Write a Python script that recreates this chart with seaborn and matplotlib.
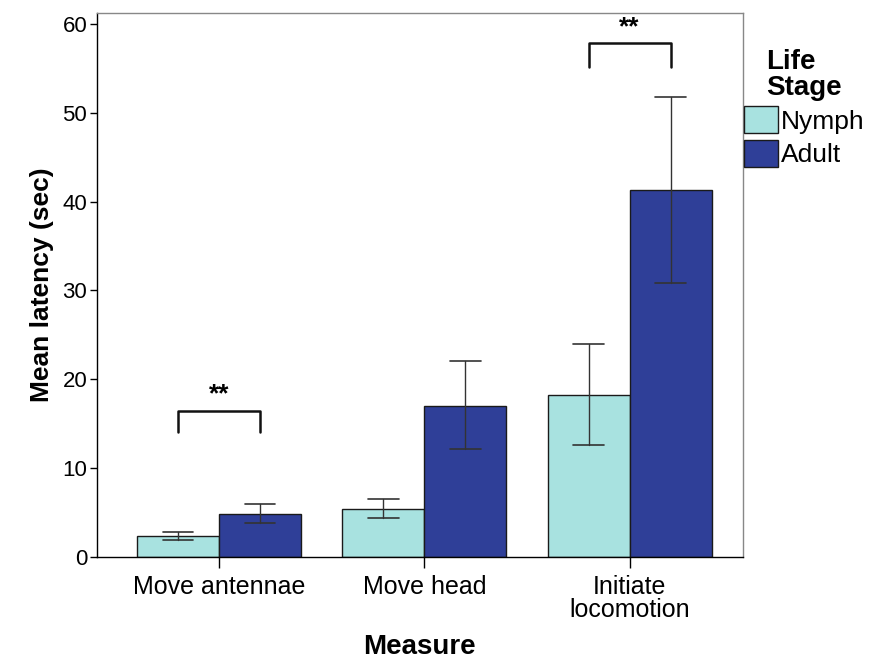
import numpy as np
import pandas as pd
import matplotlib
matplotlib.use("Agg")
import matplotlib.pyplot as plt
import seaborn as sns

# --- data ---
measures = ["Move antennae", "Move head", "Initiate\nlocomotion"]
stages = ["Nymph", "Adult"]
nymph_mean = [2.35, 5.4, 18.2]
adult_mean = [4.85, 17.0, 41.3]
nymph_lo = [1.85, 4.3, 12.6]
nymph_hi = [2.8, 6.5, 23.9]
adult_lo = [3.8, 12.1, 30.8]
adult_hi = [5.95, 22.0, 51.8]
colors = ["#a8e2e0", "#2f3f98"]

df = pd.DataFrame({
    "Measure": measures * 2,
    "Life Stage": ["Nymph"] * 3 + ["Adult"] * 3,
    "Latency": nymph_mean + adult_mean,
})

sns.set_style("white")
plt.rcParams["font.family"] = ["Liberation Sans", "DejaVu Sans"]
plt.rcParams["text.color"] = "black"
plt.rcParams["axes.labelcolor"] = "black"
plt.rcParams["xtick.color"] = "black"
plt.rcParams["ytick.color"] = "black"

fig = plt.figure(figsize=(8.82, 6.65), dpi=100)
ax = fig.add_axes([0.110, 0.163, 0.732, 0.817])

sns.barplot(data=df, x="Measure", y="Latency", hue="Life Stage",
            hue_order=stages, palette=colors, saturation=1, errorbar=None,
            edgecolor="#1a1a1a", linewidth=1.0, width=0.8, ax=ax)

# error bars from the listed bounds
lows = [nymph_lo, adult_lo]
highs = [nymph_hi, adult_hi]
for k, cont in enumerate(ax.containers):
    for i, bar in enumerate(cont):
        xc = bar.get_x() + bar.get_width() / 2
        ax.plot([xc, xc], [lows[k][i], highs[k][i]], color="#333333", lw=1.0)
        for yv in (lows[k][i], highs[k][i]):
            ax.plot([xc - 0.075, xc + 0.075], [yv, yv], color="#333333", lw=1.2)

# significance brackets
def bracket(x0, x1, ylow, ytop, ystar):
    ax.plot([x0, x0, x1, x1], [ylow, ytop, ytop, ylow], color="#111111", lw=1.8)
    ax.text((x0 + x1) / 2, ystar, "**", ha="center", va="center",
            fontsize=19, fontweight="bold")

bracket(-0.2, 0.2, 14.0, 16.4, 18.3)
bracket(1.8, 2.2, 55.2, 57.9, 59.6)

ax.set_xlim(-0.594, 2.55)
ax.set_ylim(0, 61.2)
ax.set_yticks([0, 10, 20, 30, 40, 50, 60])
ax.tick_params(axis="y", labelsize=16, length=5, width=1, left=True, pad=2)
ax.tick_params(axis="x", labelsize=18, length=8, width=1, bottom=True, pad=5)
for lbl in ax.get_xticklabels():
    lbl.set_linespacing(0.95)

for side in ["left", "bottom"]:
    ax.spines[side].set_color("black")
    ax.spines[side].set_linewidth(1.0)
for side in ["top", "right"]:
    ax.spines[side].set_color("#888888")
    ax.spines[side].set_linewidth(1.0)

ax.set_xlabel("Measure", fontsize=20, fontweight="bold", labelpad=9)
ax.set_ylabel("Mean latency (sec)", fontsize=19, fontweight="bold", labelpad=6)

leg = ax.legend(title="Life\nStage", loc="upper left",
                bbox_to_anchor=(1.002, 0.935), frameon=False, fontsize=19,
                handlelength=1.3, handleheight=1.2, handletextpad=0.1,
                labelspacing=0.22, borderaxespad=0, borderpad=0)
leg.get_title().set_fontsize(20)
leg.get_title().set_fontweight("bold")
leg.get_title().set_linespacing(1.0)
leg._legend_box.align = "center"

fig.savefig("out.png", dpi=100)
